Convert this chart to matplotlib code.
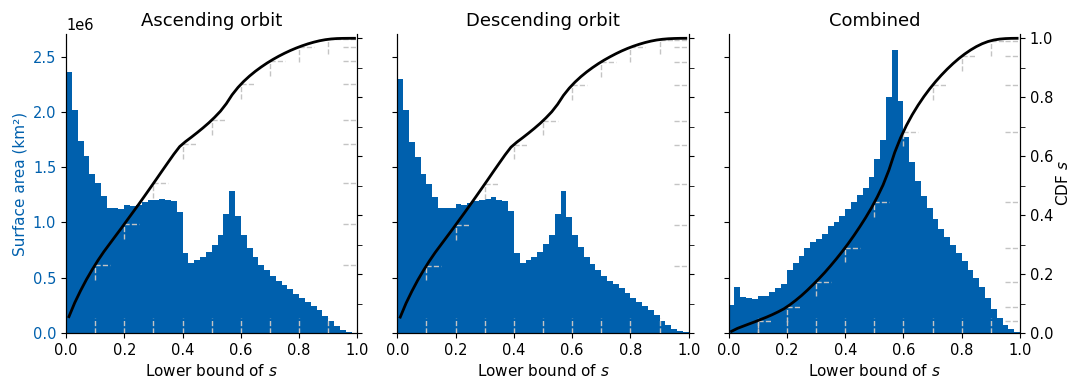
import numpy as np
import matplotlib
matplotlib.use("Agg")
import matplotlib.pyplot as plt

# histogram of s, 50 bins of 0.02, surface area in 1e6 km2
bin_edges = np.linspace(0, 1, 51)

asc_area = [2.362, 2.020, 1.738, 1.597, 1.441, 1.354, 1.240, 1.134, 1.134, 1.125,
            1.161, 1.152, 1.158, 1.185, 1.200, 1.206, 1.215, 1.203, 1.194, 1.095,
            0.720, 0.633, 0.660, 0.687, 0.730, 0.800, 0.885, 1.077, 1.287, 1.056,
            0.888, 0.771, 0.687, 0.617, 0.566, 0.514, 0.472, 0.430, 0.394, 0.355,
            0.319, 0.283, 0.244, 0.205, 0.156, 0.105, 0.060, 0.024, 0.009, 0.003]

desc_area = [2.302, 2.014, 1.732, 1.591, 1.435, 1.348, 1.233, 1.131, 1.134, 1.128,
             1.164, 1.155, 1.180, 1.190, 1.206, 1.212, 1.227, 1.206, 1.197, 1.101,
             0.726, 0.636, 0.660, 0.687, 0.729, 0.801, 0.885, 1.077, 1.285, 1.053,
             0.888, 0.777, 0.690, 0.621, 0.570, 0.519, 0.474, 0.441, 0.405, 0.363,
             0.321, 0.282, 0.246, 0.207, 0.162, 0.111, 0.072, 0.039, 0.021, 0.006]

comb_area = [0.249, 0.418, 0.322, 0.319, 0.312, 0.337, 0.331, 0.367, 0.403, 0.445,
             0.568, 0.637, 0.697, 0.766, 0.820, 0.853, 0.898, 0.965, 1.007, 1.055,
             1.118, 1.184, 1.250, 1.316, 1.415, 1.575, 1.743, 2.136, 2.560, 2.100,
             1.776, 1.550, 1.373, 1.244, 1.130, 1.028, 0.943, 0.868, 0.799, 0.727,
             0.652, 0.574, 0.499, 0.412, 0.319, 0.219, 0.135, 0.072, 0.033, 0.009]

titles = ["Ascending orbit", "Descending orbit", "Combined"]
deciles = [0.1, 0.2, 0.3, 0.4, 0.5, 0.6, 0.7, 0.8, 0.9]

BLUE = "#0060ad"
GREY = "#c4c4c4"

fig, axes = plt.subplots(1, 3, figsize=(10.7, 3.78), dpi=100, sharey=True)
fig.subplots_adjust(left=0.0617, right=0.9533, bottom=0.119, top=0.91, wspace=0.137)

centers = (bin_edges[:-1] + bin_edges[1:]) / 2
for k, (ax, area, title) in enumerate(zip(axes, [asc_area, desc_area, comb_area], titles)):
    area = np.array(area) * 1e6
    ax.bar(bin_edges[:-1], area, width=np.diff(bin_edges), align="edge",
           color=BLUE, linewidth=0)
    ax.set_xlim(0, 1)
    ax.set_ylim(0, 2.705e6)
    ax.set_title(title, fontsize=13)
    ax.set_xlabel("Lower bound of $s$", fontsize=11)
    ax.tick_params(labelsize=10.5)
    ax.spines["top"].set_visible(False)
    if k == 0:
        ax.set_ylabel("Surface area (km²)", color=BLUE, fontsize=11)
        ax.tick_params(axis="y", labelcolor=BLUE)
        ax.yaxis.get_offset_text().set_fontsize(10.5)
        ax.yaxis.get_offset_text().set_color("black")

    # cumulative distribution on the twin axis
    cdf = np.cumsum(area) / area.sum()
    ax2 = ax.twinx()
    ax2.plot(centers, cdf, color="black", lw=2, zorder=5)
    ax2.set_ylim(0, 1.0145)
    ax2.set_yticks(np.arange(0, 1.01, 0.2))
    ax2.set_yticks(np.arange(0.1, 1.0, 0.2), minor=True)
    ax2.tick_params(axis="y", which="minor", length=3.5)
    ax2.tick_params(labelsize=10.5)
    ax2.spines["top"].set_visible(False)
    if k == 2:
        ax2.set_ylabel("CDF $s$", fontsize=11, labelpad=1.5)
    else:
        ax2.set_yticklabels([])

    # short dashed guides at each decile
    for x in deciles:
        c = np.interp(x, centers, cdf)
        kw = dict(color=GREY, lw=1, ls="--", zorder=3)
        ax2.plot([x, x], [0, 0.05], **kw)
        ax2.plot([x, x], [c - 0.05, c], **kw)
        ax2.plot([x, x + 0.05], [c, c], **kw)
        ax2.plot([0.95, 1.0], [c, c], **kw)

fig.savefig("out.png", dpi=100)
